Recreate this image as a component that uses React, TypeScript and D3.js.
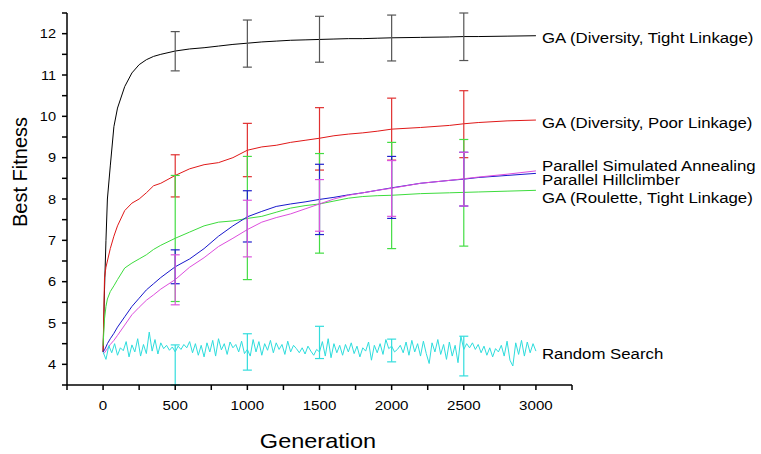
import React from "react";
import * as d3 from "d3";

const gens = [0, 10, 20, 30, 50, 75, 100, 150, 200, 250, 300, 350, 400, 500, 600, 700, 800, 900, 1000, 1100, 1200, 1300, 1400, 1500, 1600, 1700, 1800, 1900, 2000, 2200, 2400, 2500, 2600, 2800, 3000];

const gaTight = [4.3, 5.8, 7.0, 8.0, 8.8, 9.75, 10.2, 10.72, 11.05, 11.25, 11.37, 11.45, 11.5, 11.58, 11.63, 11.66, 11.7, 11.74, 11.77, 11.8, 11.82, 11.84, 11.85, 11.86, 11.87, 11.88, 11.88, 11.89, 11.9, 11.91, 11.92, 11.93, 11.93, 11.94, 11.95];
const gaPoor = [4.3, 6.1, 6.35, 6.5, 6.8, 7.1, 7.35, 7.72, 7.9, 8.0, 8.15, 8.32, 8.38, 8.57, 8.73, 8.83, 8.88, 9.0, 9.18, 9.26, 9.3, 9.37, 9.42, 9.47, 9.53, 9.57, 9.6, 9.64, 9.69, 9.73, 9.78, 9.82, 9.85, 9.89, 9.91];
const gaRoulette = [4.45, 5.1, 5.4, 5.58, 5.76, 5.9, 6.05, 6.33, 6.45, 6.55, 6.65, 6.78, 6.88, 7.05, 7.2, 7.35, 7.44, 7.47, 7.53, 7.58, 7.68, 7.78, 7.84, 7.88, 7.95, 8.02, 8.06, 8.08, 8.09, 8.13, 8.15, 8.16, 8.17, 8.19, 8.21];
const hillclimber = [4.3, 4.35, 4.42, 4.5, 4.62, 4.75, 4.9, 5.15, 5.4, 5.6, 5.8, 5.95, 6.1, 6.36, 6.55, 6.8, 7.1, 7.35, 7.57, 7.7, 7.82, 7.88, 7.93, 7.99, 8.04, 8.1, 8.15, 8.21, 8.27, 8.38, 8.45, 8.48, 8.52, 8.57, 8.62];
const annealing = [4.25, 4.28, 4.33, 4.38, 4.48, 4.58, 4.7, 4.95, 5.2, 5.38, 5.55, 5.68, 5.82, 6.05, 6.35, 6.58, 6.85, 7.05, 7.26, 7.44, 7.55, 7.64, 7.76, 7.88, 8.0, 8.09, 8.15, 8.21, 8.26, 8.38, 8.45, 8.49, 8.53, 8.6, 8.68];

const randomGens = d3.range(0, 3001, 20);
const randomSearch = [
  4.30, 4.12, 4.45, 4.28, 4.50, 4.22, 4.40, 4.33, 4.55, 4.18,
  4.47, 4.30, 4.62, 4.20, 4.48, 4.26, 4.78, 4.32, 4.60, 4.25,
  4.52, 4.38, 4.46, 4.34, 4.42, 4.30, 4.44, 4.36, 4.48, 4.40,
  4.55, 4.28, 4.50, 4.22, 4.46, 4.18, 4.52, 4.30, 4.58, 4.20,
  4.62, 4.35, 4.50, 4.24, 4.54, 4.40, 4.48, 4.30, 4.56, 4.26,
  4.36, 4.20, 4.60, 4.30, 4.55, 4.22, 4.50, 4.34, 4.58, 4.28,
  4.52, 4.36, 4.48, 4.24, 4.56, 4.30, 4.46, 4.38, 4.28, 4.40,
  4.25, 4.44, 4.32, 4.22, 4.36, 4.30, 4.55, 4.20, 4.62, 4.16,
  4.50, 4.28, 4.46, 4.22, 4.48, 4.30, 4.52, 4.26, 4.44, 4.18,
  4.40, 4.32, 4.54, 4.10, 4.46, 4.28, 4.50, 4.24, 4.60, 4.38,
  4.44, 4.30, 4.36, 4.46, 4.28, 4.54, 4.22, 4.58, 4.30, 4.50,
  4.20, 4.56, 4.26, 4.02, 4.52, 4.30, 4.60, 4.24, 4.48, 4.12,
  4.54, 4.20, 4.46, 4.04, 4.68, 4.36, 4.50, 4.40, 4.52, 4.36,
  4.48, 4.28, 4.44, 4.22, 4.40, 4.18, 4.38, 4.30, 4.46, 4.20,
  4.56, 4.10, 3.96, 4.52, 4.24, 4.58, 4.20, 4.54, 4.28, 4.50,
  4.32,
];

const errGens = [500, 1000, 1500, 2000, 2500];
const gaTightHi = [12.05, 12.33, 12.42, 12.45, 12.5];
const gaTightLo = [11.1, 11.19, 11.31, 11.34, 11.35];
const gaPoorHi = [9.07, 9.83, 10.21, 10.44, 10.62];
const gaPoorLo = [8.05, 8.54, 8.7, 8.94, 9.0];
const gaRouletteHi = [8.57, 9.03, 9.1, 9.37, 9.44];
const gaRouletteLo = [5.52, 6.05, 6.69, 6.8, 6.86];
const hillHi = [6.77, 8.2, 8.84, 9.03, 9.13];
const hillLo = [5.95, 6.96, 7.14, 7.53, 7.83];
const annealHi = [6.65, 7.97, 8.47, 8.93, 9.13];
const annealLo = [5.44, 6.6, 7.22, 7.58, 7.83];
const randomHi = [4.47, 4.74, 4.92, 4.61, 4.68];
const randomLo = [3.5, 3.86, 4.14, 4.06, 3.72];

const seriesNames = [
  "GA (Diversity, Tight Linkage)",
  "GA (Diversity, Poor Linkage)",
  "GA (Roulette, Tight Linkage)",
  "Parallel Hillclimber",
  "Parallel Simulated Annealing",
  "Random Search",
];

const xTickLabels = [0, 500, 1000, 1500, 2000, 2500, 3000];
const yTickLabels = [4, 5, 6, 7, 8, 9, 10, 11, 12];

const W = 761;
const H = 454;
const FONT = "'Liberation Sans', Arial, Helvetica, sans-serif";
const SX = 1.12;

export default function App() {
  const x = d3.scaleLinear().domain([-250, 3250]).range([67, 572]);
  const y = d3.scaleLinear().domain([3.5, 12.5]).range([385, 13]);

  const series = [
    { name: seriesNames[0], gx: gens, v: gaTight, hi: gaTightHi, lo: gaTightLo, color: "#000000", err: "#555555", dy: 2 },
    { name: seriesNames[1], gx: gens, v: gaPoor, hi: gaPoorHi, lo: gaPoorLo, color: "#e01818", err: "#e03030", dy: 3 },
    { name: seriesNames[2], gx: gens, v: gaRoulette, hi: gaRouletteHi, lo: gaRouletteLo, color: "#3ddc3d", err: "#44dd44", dy: 7 },
    { name: seriesNames[3], gx: gens, v: hillclimber, hi: hillHi, lo: hillLo, color: "#1818cc", err: "#2020cc", dy: 6 },
    { name: seriesNames[4], gx: gens, v: annealing, hi: annealHi, lo: annealLo, color: "#dd4ddd", err: "#dd55dd", dy: -5 },
    { name: seriesNames[5], gx: randomGens, v: randomSearch, hi: randomHi, lo: randomLo, color: "#2edddd", err: "#33dddd", dy: 3 },
  ];

  const line = (gx: number[], v: number[]) =>
    d3.line<number>().x((_, i) => x(gx[i])).y((d) => y(d))(v) || "";

  const xMinor = d3.range(-250, 3251, 250);
  const yMinor = d3.range(3.5, 12.51, 0.5);

  return (
    <svg width={W} height={H} style={{ position: "absolute", left: 0, top: 0, background: "#fff" }} fontFamily={FONT}>
      <rect x={0} y={0} width={W} height={H} fill="#fff" />
      {series.map((s) => (
        <path key={s.name} d={line(s.gx, s.v)} fill="none" stroke={s.color} strokeWidth={1} />
      ))}
      {series.map((s) =>
        errGens.map((g, i) => {
          const cx = x(g);
          return (
            <g key={s.name + g} stroke={s.err} strokeWidth={1.2}>
              <line x1={cx} x2={cx} y1={y(s.hi[i])} y2={y(s.lo[i])} />
              <line x1={cx - 4.5} x2={cx + 4.5} y1={y(s.hi[i])} y2={y(s.hi[i])} />
              <line x1={cx - 4.5} x2={cx + 4.5} y1={y(s.lo[i])} y2={y(s.lo[i])} />
            </g>
          );
        })
      )}
      {/* axes */}
      <g stroke="#000" strokeWidth={1.5}>
        <line x1={x(-250)} x2={x(-250)} y1={y(12.5)} y2={y(3.5)} />
        <line x1={x(-250)} x2={x(3250)} y1={y(3.5)} y2={y(3.5)} />
        {yMinor.map((t) => (
          <line key={"yt" + t} x1={x(-250) - 5} x2={x(-250)} y1={y(t)} y2={y(t)} />
        ))}
        {xMinor.map((t) => (
          <line key={"xt" + t} x1={x(t)} x2={x(t)} y1={y(3.5)} y2={y(3.5) + 5} />
        ))}
      </g>
      {yTickLabels.map((t) => (
        <text key={"yl" + t} transform={`translate(56,${y(t) + 4.7}) scale(${SX},1)`} textAnchor="end" fontSize={13} fill="#000">
          {t}
        </text>
      ))}
      {xTickLabels.map((t) => (
        <text key={"xl" + t} transform={`translate(${x(t)},${410}) scale(${SX},1)`} textAnchor="middle" fontSize={13.5} fill="#000">
          {t}
        </text>
      ))}
      <text transform={`translate(318,448) scale(${SX},1)`} textAnchor="middle" fontSize={21} fill="#000">
        Generation
      </text>
      <text transform={`translate(27,172) rotate(-90)`} textAnchor="middle" fontSize={20} fill="#000">
        Best Fitness
      </text>
      {series.map((s) => (
        <text
          key={"lab" + s.name}
          transform={`translate(542,${y(s.v[s.v.length - 1]) + s.dy + 5.3}) scale(${SX},1)`}
          fontSize={15}
          fill="#000"
        >
          {s.name}
        </text>
      ))}
    </svg>
  );
}
